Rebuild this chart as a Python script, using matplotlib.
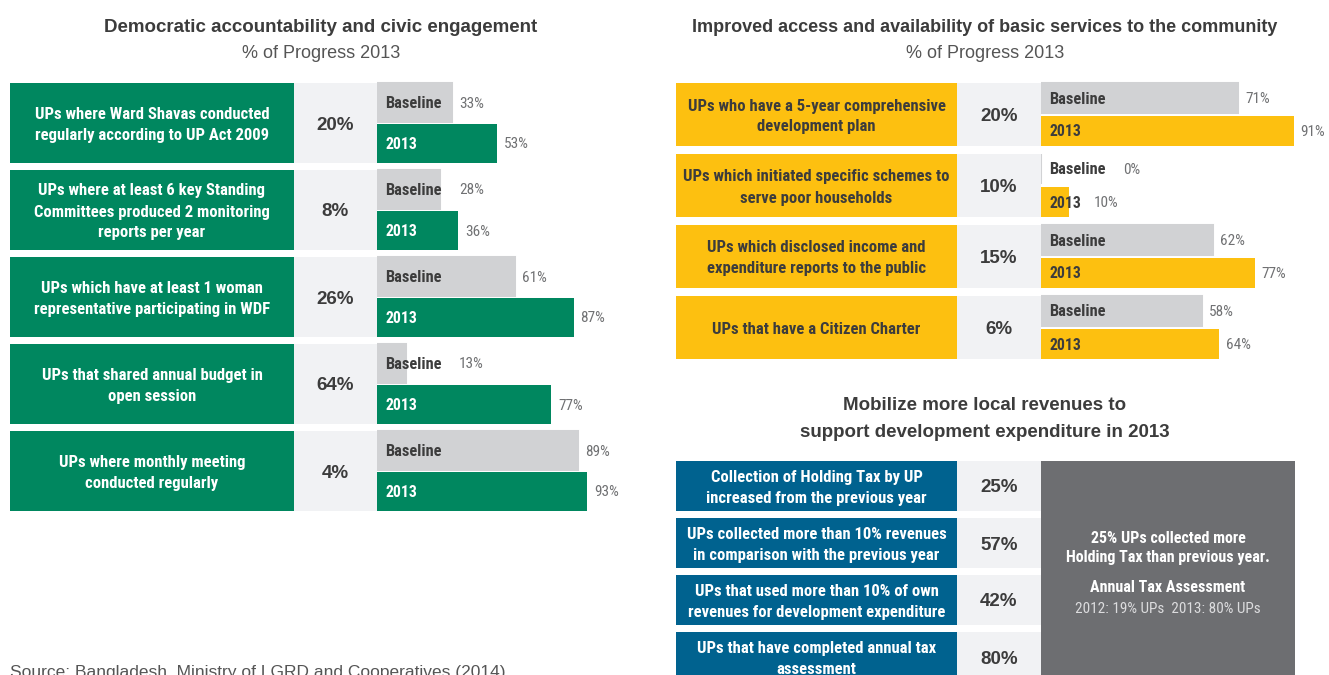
import matplotlib.pyplot as plt
from matplotlib.patches import Rectangle
from matplotlib import font_manager

W, H = 1329, 675

# Democratic accountability panel
civic_labels = [
    "UPs where Ward Shavas conducted\nregularly according to UP Act 2009",
    "UPs where at least 6 key Standing\nCommittees produced 2 monitoring\nreports per year",
    "UPs which have at least 1 woman\nrepresentative participating in WDF",
    "UPs that shared annual budget in\nopen session",
    "UPs where monthly meeting\nconducted regularly",
]
civic_progress = [20, 8, 26, 64, 4]
civic_baseline = [33, 28, 61, 13, 89]
civic_2013 = [53, 36, 87, 77, 93]

# Basic services panel
service_labels = [
    "UPs who have a 5-year comprehensive\ndevelopment plan",
    "UPs which initiated specific schemes to\nserve poor households",
    "UPs which disclosed income and\nexpenditure reports to the public",
    "UPs that have a Citizen Charter",
]
service_progress = [20, 10, 15, 6]
service_baseline = [71, 0, 62, 58]
service_2013 = [91, 10, 77, 64]

# Local revenues panel
revenue_labels = [
    "Collection of Holding Tax by UP\nincreased from the previous year",
    "UPs collected more than 10% revenues\nin comparison with the previous year",
    "UPs that used more than 10% of own\nrevenues for development expenditure",
    "UPs that have completed annual tax\nassessment",
]
revenue_progress = [25, 57, 42, 80]
revenue_note = ["25% UPs collected more\nHolding Tax than previous year.",
                "Annual Tax Assessment",
                "2012: 19% UPs  2013: 80% UPs"]

GREEN = '#00875f'
YELLOW = '#fdc010'
BLUE = '#00628f'
DARK = '#6d6e71'
BAR_GREY = '#d1d2d4'
MID_GREY = '#f1f2f4'
TEXT = '#3c3c3c'
VALUE = '#707173'

# pick a condensed face if the machine has one, else plain Liberation Sans
installed = {f.name for f in font_manager.fontManager.ttflist}
narrow_face = 'Liberation Sans'
for name in ['Roboto Condensed', 'Liberation Sans Narrow', 'Open Sans Condensed',
             'DejaVu Sans Condensed']:
    if name in installed:
        narrow_face = name
        break
condensed = narrow_face != 'Liberation Sans'
NARROW = [narrow_face, 'DejaVu Sans']
WIDE = ['Liberation Sans', 'DejaVu Sans']
LBL = 12 if condensed else 10.5     # size of the box labels
SML = 11 if condensed else 10       # values
TAG = 11.8 if condensed else 10.5   # "Baseline" / "2013" tags

fig = plt.figure(figsize=(W / 100, H / 100), dpi=100)
lay = fig.add_axes([0, 0, 1, 1])
lay.set_xlim(0, W)
lay.set_ylim(H, 0)
lay.axis('off')


def label_boxes(labels, progress, box_x, mid_x, bar_x, tops, row_h, color, txt_color):
    for lab, p, t in zip(labels, progress, tops):
        lay.add_patch(Rectangle((box_x, t), mid_x - box_x, row_h, color=color, lw=0))
        lay.add_patch(Rectangle((mid_x, t), bar_x - mid_x, row_h, color=MID_GREY, lw=0))
        lay.text((box_x + mid_x) / 2, t + row_h / 2 + 2, lab, ha='center', va='center',
                 multialignment='center', linespacing=1.5, fontsize=LBL,
                 fontweight='bold', family=NARROW, color=txt_color)
        lay.text((mid_x + bar_x) / 2, t + row_h / 2 + 2, f'{p}%', ha='center', va='center',
                 fontsize=13.5, fontweight='bold', family=WIDE, color=TEXT)


def panel(labels, progress, base, cur, box_x, mid_x, bar_x, scale, top, pitch,
          row_h, gap, color, txt_color):
    ax = fig.add_axes([bar_x / W, 0, 100 * scale / W, 1])
    ax.set_xlim(0, 100)
    ax.set_ylim(H, 0)
    ax.axis('off')
    bh = (row_h - gap) / 2
    tops = [top + i * pitch for i in range(len(labels))]
    y_base = [t + bh / 2 for t in tops]
    y_cur = [t + bh + gap + bh / 2 for t in tops]
    ax.barh(y_base, base, height=bh, color=BAR_GREY, edgecolor=BAR_GREY, lw=1.5)
    ax.barh(y_cur, cur, height=bh, color=color, lw=0)
    label_boxes(labels, progress, box_x, mid_x, bar_x, tops, row_h, color, txt_color)
    for i in range(len(labels)):
        ax.text(8 / scale, y_base[i] + 1, 'Baseline', ha='left', va='center', fontsize=TAG,
                fontweight='bold', family=NARROW, color=TEXT)
        ax.text(8 / scale, y_cur[i] + 1, '2013', ha='left', va='center', fontsize=TAG - 0.5,
                fontweight='bold', family=NARROW, color=txt_color)
        ax.text(max(base[i], 75 / scale) + 7 / scale, y_base[i] + 1, f'{base[i]}%',
                ha='left', va='center', fontsize=SML, family=NARROW, color=VALUE)
        ax.text(max(cur[i], 46 / scale) + 7 / scale, y_cur[i] + 1, f'{cur[i]}%',
                ha='left', va='center', fontsize=SML, family=NARROW, color=VALUE)


# titles
lay.text(321, 27, 'Democratic accountability and civic engagement', ha='center',
         va='center', fontsize=13.5, fontweight='bold', family=WIDE, color=TEXT)
lay.text(321, 53, '% of Progress 2013', ha='center', va='center', fontsize=13,
         family=WIDE, color='#555555')
lay.text(985, 27, 'Improved access and availability of basic services to the community',
         ha='center', va='center', fontsize=13, fontweight='bold', family=WIDE, color=TEXT)
lay.text(985, 53, '% of Progress 2013', ha='center', va='center', fontsize=13,
         family=WIDE, color='#555555')
lay.text(985, 419, 'Mobilize more local revenues to\nsupport development expenditure in 2013',
         ha='center', va='center', linespacing=1.7, fontsize=13.5, fontweight='bold',
         family=WIDE, color=TEXT)

panel(civic_labels, civic_progress, civic_baseline, civic_2013,
      10, 294, 377, 2.26, 83, 87, 80, 2, GREEN, 'white')
panel(service_labels, service_progress, service_baseline, service_2013,
      676, 957, 1041, 2.776, 83, 71, 63, 3, YELLOW, TEXT)

# revenues block
rev_tops = [461 + i * 57 for i in range(len(revenue_labels))]
label_boxes(revenue_labels, revenue_progress, 676, 957, 1041, rev_tops, 50, BLUE, 'white')
lay.add_patch(Rectangle((1041, 461), 254, 230, color=DARK, lw=0))
lay.text(1168, 548, revenue_note[0], ha='center', va='center', linespacing=1.4,
         fontsize=LBL - 0.5, fontweight='bold', family=NARROW, color='white')
lay.text(1168, 588, revenue_note[1], ha='center', va='center', fontsize=LBL - 0.5,
         fontweight='bold', family=NARROW, color='white')
lay.text(1168, 609, revenue_note[2], ha='center', va='center', fontsize=SML,
         family=NARROW, color='#dcdcde')

lay.text(10, 665, 'Source: Bangladesh, Ministry of LGRD and Cooperatives (2014)',
         ha='left', va='top', fontsize=12.5, family=WIDE, color='#555555')

fig.savefig('out.png', dpi=100)
